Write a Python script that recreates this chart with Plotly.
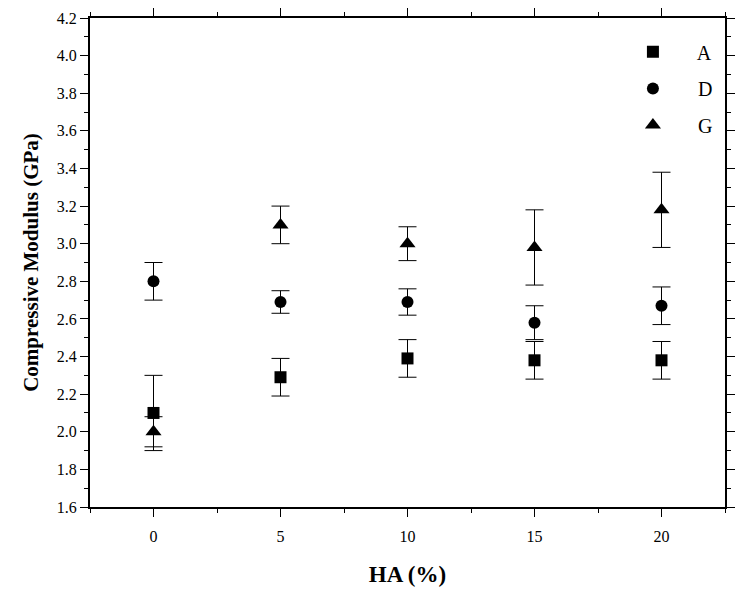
import plotly.graph_objects as go

ha = [0, 5, 10, 15, 20]
series_names = ["A", "D", "G"]
a_vals = [2.10, 2.29, 2.39, 2.38, 2.38]
a_err = [0.20, 0.10, 0.10, 0.10, 0.10]
d_vals = [2.80, 2.69, 2.69, 2.58, 2.67]
d_err = [0.10, 0.06, 0.07, 0.09, 0.10]
g_vals = [2.00, 3.10, 3.00, 2.98, 3.18]
g_err = [0.08, 0.10, 0.09, 0.20, 0.20]
symbols = ["square", "circle", "triangle-up"]
sizes = [12, 12, 14]
legend_ids = ["legend", "legend2", "legend3"]
legend_y = [0.931, 0.856, 0.781]

font_family = "Liberation Serif, Times New Roman, serif"

fig = go.Figure()
for name, vals, err, sym, sz, lid in zip(series_names, [a_vals, d_vals, g_vals],
                                         [a_err, d_err, g_err], symbols, sizes, legend_ids):
    fig.add_trace(go.Scatter(
        x=ha, y=vals, mode="markers", name="     " + name, legend=lid,
        marker=dict(symbol=sym, size=sz, color="black"),
        error_y=dict(type="data", array=err, visible=True, color="black",
                     thickness=1, width=9),
    ))

axis_common = dict(
    showline=True, linecolor="black", linewidth=2, mirror="allticks",
    ticks="outside", ticklen=8, tickwidth=1.2, tickcolor="black",
    showgrid=False, zeroline=False,
    tickfont=dict(family=font_family, size=16, color="black"),
)

legend_common = dict(xanchor="left", yanchor="middle", bgcolor="rgba(0,0,0,0)",
                     font=dict(size=20, family=font_family, color="black"),
                     itemwidth=30, borderwidth=0)

layout_legends = {}
for lid, ly in zip(legend_ids, legend_y):
    layout_legends[lid] = dict(x=0.855, y=ly, **legend_common)

fig.update_layout(
    width=743, height=591,
    margin=dict(l=90, r=8, t=17, b=84),
    paper_bgcolor="white", plot_bgcolor="white",
    font=dict(family=font_family, color="black"),
    xaxis=dict(range=[-2.5, 22.5], tickvals=[0, 5, 10, 15, 20],
               ticklabelstandoff=6,
               minor=dict(ticks="outside", ticklen=4, dtick=2.5, tick0=0,
                          tickcolor="black", tickwidth=1),
               title=dict(text="<b>HA (%)</b>", font=dict(size=23, family=font_family), standoff=22),
               **axis_common),
    yaxis=dict(range=[1.6, 4.2], dtick=0.2, tick0=1.6, tickformat=".1f",
               minor=dict(ticks="outside", ticklen=4, dtick=0.1,
                          tickcolor="black", tickwidth=1),
               title=dict(text="<b>Compressive Modulus (GPa)</b>", font=dict(size=21, family=font_family), standoff=12),
               **axis_common),
    showlegend=True,
    **layout_legends,
)

fig.write_html("out.html")
